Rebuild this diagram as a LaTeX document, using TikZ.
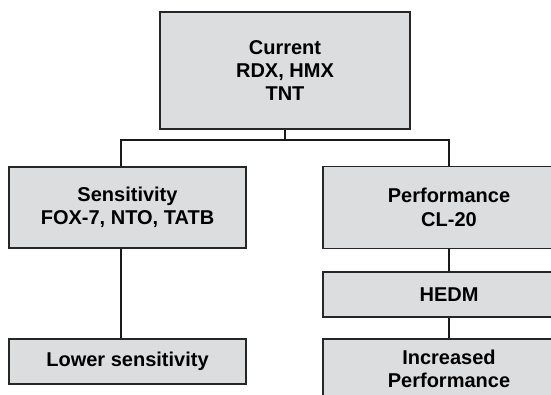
\documentclass[tikz,border=0pt]{standalone}
\usepackage{fontspec}
\setmainfont{Liberation Sans}
\usetikzlibrary{positioning}
\definecolor{boxgray}{RGB}{220,221,223}

\begin{document}
\begin{tikzpicture}[
            x=1pt,y=1pt,
            box/.style={draw=black!85,line width=1.2pt,fill=boxgray,align=center,
                inner sep=0pt,font=\fontsize{20}{23.3}\selectfont\bfseries},
            link/.style={black!90,line width=1.2pt}
        ]
            \useasboundingbox (0,0) rectangle (551,394);
            \clip (0,0) rectangle (551,394);
            % top level
            \node[box,minimum width=250,minimum height=117] (current) at (285,323.5)
                {Current\\RDX, HMX\\TNT};
            % second level
            \node[box,minimum width=237,minimum height=81] (sens) at (127.5,186.5)
                {Sensitivity\\FOX-7, NTO, TATB};
            \node[box,minimum width=252,minimum height=82] (perf) at (449,186.5)
                {Performance\\CL-20};
            % lower levels
            \node[box,minimum width=237,minimum height=45] (lower) at (127.5,32.5)
                {Lower sensitivity};
            \node[box,minimum width=252,minimum height=45] (hedm) at (449,99.5)
                {HEDM};
            \node[box,minimum width=252,minimum height=60] (incr) at (449,25)
                {Increased\\Performance};
            % connectors
            \coordinate (busL) at (121,254);
            \coordinate (busR) at (449,254);
            \draw[link] (current.south) -- (current.south |- busL);
            \draw[link] (sens.north -| busL) -- (busL) -- (busR) -- (perf.north);
            \draw[link] (sens.south -| busL) -- (lower.north -| busL);
            \draw[link] (perf.south) -- (hedm.north);
            \draw[link] (hedm.south) -- (incr.north);
        \end{tikzpicture}
\end{document}
